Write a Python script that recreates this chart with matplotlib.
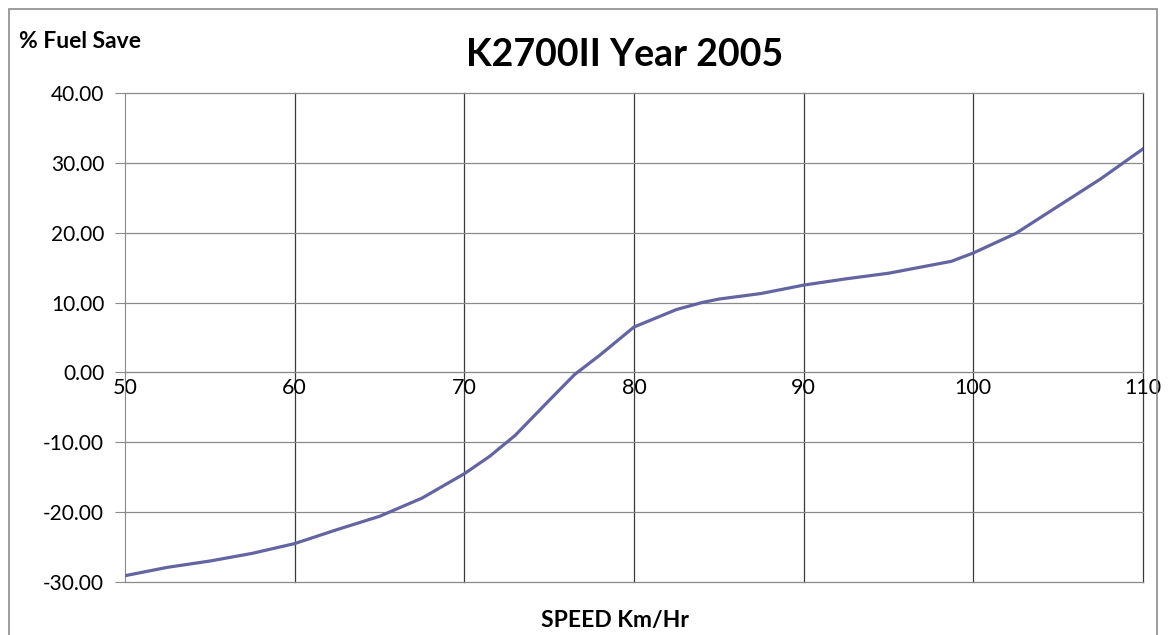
import matplotlib
matplotlib.use("Agg")
from matplotlib import pyplot as plt
from matplotlib.patches import Rectangle

# speed (km/h) vs % fuel save
speed = [50, 52.5, 55, 57.5, 60, 62.5, 65, 67.5, 70, 71.5, 73, 75, 76.5, 78,
         79.5, 80, 82.5, 84, 85, 87.5, 90, 92.5, 95, 98.7, 100, 102.5, 105,
         107.5, 110]
fuel_save = [-29.1, -27.9, -27.0, -25.9, -24.5, -22.5, -20.6, -18.0, -14.5,
             -12.0, -9.0, -4.0, -0.3, 2.5, 5.5, 6.5, 9.0, 10.0, 10.5, 11.3,
             12.5, 13.4, 14.2, 15.9, 17.1, 19.9, 23.8, 27.7, 32.0]

x_ticks = [50, 60, 70, 80, 90, 100, 110]
y_ticks = [-30, -20, -10, 0, 10, 20, 30, 40]

plt.rcParams['font.family'] = ['Lato', 'DejaVu Sans']

fig = plt.figure(figsize=(11.72, 6.35), dpi=100)
ax = fig.add_axes([125 / 1172, 1 - 582 / 635, (1143 - 125) / 1172, (582 - 93) / 635])

# outer chart border
fig.patches.append(Rectangle((9 / 1172, -0.1), (1157 - 9) / 1172, 1.1 - 9 / 635,
                             transform=fig.transFigure, fill=False,
                             edgecolor='#8c8c8c', linewidth=1.2))

ax.plot(speed, fuel_save, color='#6464a2', linewidth=2.3, zorder=3)

ax.set_xlim(50, 110)
ax.set_ylim(-30, 40)
ax.set_xticks(x_ticks)
ax.set_yticks(y_ticks)
ax.set_yticklabels(['%.2f' % v for v in y_ticks])

for v in x_ticks[1:]:
    ax.axvline(v, color='#3a3a3a', linewidth=0.9, zorder=1, clip_on=False)
for v in y_ticks:
    ax.axhline(v, color='#8a8a8a', linewidth=0.9, zorder=1, clip_on=False)

ax.spines['top'].set_visible(False)
ax.spines['right'].set_visible(False)
ax.spines['left'].set_color('#8a8a8a')
ax.spines['bottom'].set_position(('data', 0))
ax.spines['bottom'].set_color('#8a8a8a')

ax.tick_params(axis='y', length=7, color='#8a8a8a', pad=8, labelsize=15)
ax.tick_params(axis='x', length=0, pad=4, labelsize=15.5)

fig.text(19 / 1172, 1 - 42 / 635, '% Fuel Save', fontsize=16.5,
         fontweight='bold', va='center', ha='left')
fig.text(625 / 1172, 1 - 55 / 635, 'K2700II Year 2005', fontsize=27,
         fontweight='bold', va='center', ha='center')
fig.text(615 / 1172, 1 - 620 / 635, 'SPEED Km/Hr', fontsize=16.5,
         fontweight='bold', va='center', ha='center')

fig.savefig('out.png', dpi=100)
